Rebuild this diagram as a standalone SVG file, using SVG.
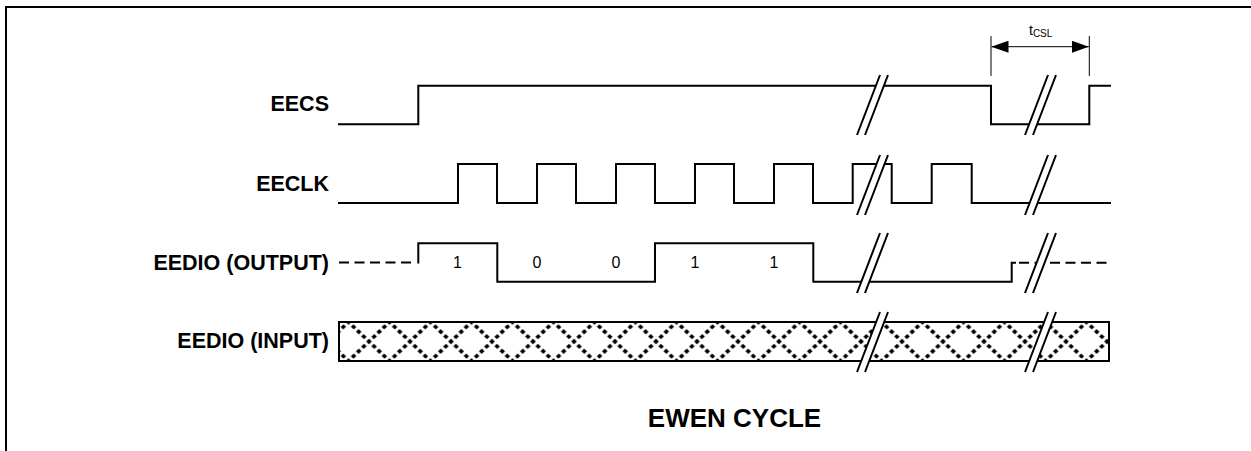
<svg xmlns="http://www.w3.org/2000/svg" width="1251" height="451" viewBox="0 0 1251 451">
<style>
.sig{fill:none;stroke:#000;stroke-width:2;stroke-linejoin:miter;stroke-linecap:square}
.dash{fill:none;stroke:#000;stroke-width:2;stroke-dasharray:10 5.5}
.lbl{font-family:"Liberation Sans",Arial,sans-serif;font-weight:bold;font-size:21.5px;fill:#000}
.bit{font-family:"Liberation Sans",Arial,sans-serif;font-size:16px;fill:#000;text-anchor:middle}
.thin{fill:none;stroke:#000;stroke-width:1}
.gap{fill:#fff;stroke:none}
.sl{stroke:#000;stroke-width:2;fill:none}
</style>
<defs>
<pattern id="xp" x="348.5" y="322" width="41" height="39" patternUnits="userSpaceOnUse">
<path d="M0,0 L41,39 M0,39 L41,0" stroke="#000" stroke-width="3.6" stroke-dasharray="4 3.07" stroke-dashoffset="2" fill="none"/>
</pattern>
<marker id="ah" viewBox="0 0 17 12" refX="17" refY="6" markerWidth="17" markerHeight="12" markerUnits="userSpaceOnUse" orient="auto-start-reverse">
<path d="M0,0 L17,6 L0,12 Z" fill="#000"/>
</marker>
</defs>
<rect width="1251" height="451" fill="#fff"/>
<path d="M6,451 V7 H1251" fill="none" stroke="#000" stroke-width="2"/>

<g id="labels">
<text class="lbl" x="329" y="111" text-anchor="end">EECS</text>
<text class="lbl" x="329" y="191" text-anchor="end">EECLK</text>
<text class="lbl" x="329" y="270" text-anchor="end">EEDIO (OUTPUT)</text>
<text class="lbl" x="329" y="348" text-anchor="end">EEDIO (INPUT)</text>
</g>

<g id="eecs">
<path class="sig" d="M339,124.3 H418.3 V85.7 H991 V124.3 H1089.3 V85.7 H1110"/>
</g>

<g id="eeclk">
<path class="sig" d="M339,203 H458 V164 H497 V203 H537 V164 H576 V203 H616 V164 H655 V203 H695 V164 H734 V203 H774 V164 H813 V203 H852.7 V164 H891.7 V203 H931.7 V164 H971.7 V203 H1110"/>
</g>

<g id="eedio-out">
<path class="dash" d="M339,262.5 H414"/>
<path class="sig" d="M418.3,262.5 V243.3 H497.3 V281.7 H655 V243.3 H813.3 V281.7 H1011.7 V262.7 H1015"/>
<path class="dash" d="M1019,262.7 H1110"/>
<text class="bit" x="457.5" y="267.5">1</text>
<text class="bit" x="537" y="267.5">0</text>
<text class="bit" x="616" y="267.5">0</text>
<text class="bit" x="695" y="267.5">1</text>
<text class="bit" x="774" y="267.5">1</text>
</g>

<g id="eedio-in">
<rect x="339" y="322" width="770" height="39" fill="url(#xp)"/>
<rect x="339" y="322" width="770" height="39" fill="none" stroke="#000" stroke-width="2"/>
</g>

<g id="breaks">
<polygon class="gap" points="857,135 865,135 888,75 880,75"/>
<polygon class="gap" points="857,215 865,215 888,155 880,155"/>
<polygon class="gap" points="857,293 865,293 888,233 880,233"/>
<polygon class="gap" points="857,372 865,372 888,312 880,312"/>
<polygon class="gap" points="1025,135 1033,135 1056,75 1048,75"/>
<polygon class="gap" points="1025,215 1033,215 1056,155 1048,155"/>
<polygon class="gap" points="1025,293 1033,293 1056,233 1048,233"/>
<polygon class="gap" points="1025,372 1033,372 1056,312 1048,312"/>
<path class="sl" d="M857,135 L880,75 M865,135 L888,75 M857,215 L880,155 M865,215 L888,155 M857,293 L880,233 M865,293 L888,233 M857,372 L880,312 M865,372 L888,312"/>
<path class="sl" d="M1025,135 L1048,75 M1033,135 L1056,75 M1025,215 L1048,155 M1033,215 L1056,155 M1025,293 L1048,233 M1033,293 L1056,233 M1025,372 L1048,312 M1033,372 L1056,312"/>
</g>

<g id="connectors">
<path class="thin" d="M991,36 V76 M1089.3,36 V76"/>
<path class="thin" d="M991.5,46.7 H1088.8" marker-start="url(#ah)" marker-end="url(#ah)"/>
</g>
<g id="tcsl-label">
<text font-family="'Liberation Sans',Arial,sans-serif" font-size="14" x="1029" y="35">t<tspan font-size="10" dy="1.7">CSL</tspan></text>
</g>

<text font-family="'Liberation Sans',Arial,sans-serif" font-weight="bold" font-size="26" x="734.5" y="426.5" text-anchor="middle">EWEN CYCLE</text>
</svg>
